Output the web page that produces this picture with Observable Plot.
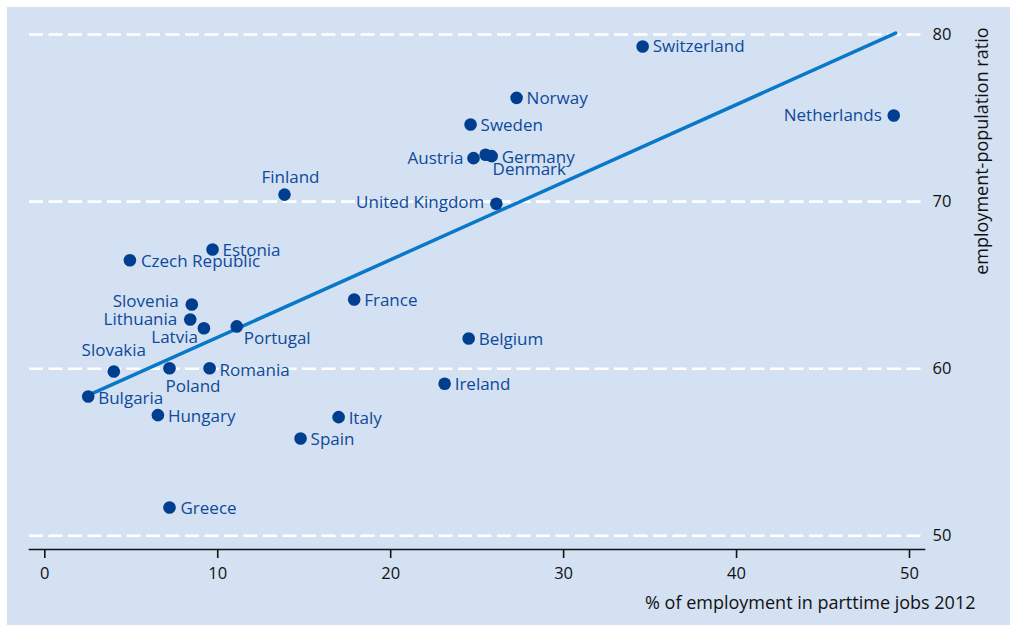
<!DOCTYPE html>
<html>
<head>
<meta charset="utf-8">
<script src="https://cdn.jsdelivr.net/npm/d3@7"></script>
<script src="https://cdn.jsdelivr.net/npm/@observablehq/plot@0.6"></script>
<style>
  html, body { margin: 0; padding: 0; background: #ffffff; }
  #wrap { padding: 7px 0 0 7px; width: 1003px; height: 618px; }
</style>
</head>
<body>
<div id="wrap"></div>
<script>
// ---- data ----
const countries = ["Switzerland","Norway","Sweden","Austria","Germany","Denmark","Netherlands","United Kingdom","Finland","Estonia","Czech Republic","Slovenia","Lithuania","Latvia","Portugal","Slovakia","Poland","Romania","Bulgaria","Hungary","France","Belgium","Ireland","Italy","Spain","Greece"];
const parttimeShare = [34.57,27.28,24.62,24.79,25.84,25.49,49.09,26.11,13.86,9.70,4.92,8.50,8.41,9.20,11.10,3.99,7.21,9.53,2.51,6.54,17.89,24.51,23.12,16.99,14.79,7.21];
const employmentRatio = [79.28,76.21,74.61,72.60,72.72,72.80,75.15,69.87,70.42,67.13,66.49,63.84,62.94,62.42,62.53,59.83,60.03,60.03,58.34,57.22,64.14,61.81,59.10,57.10,55.82,51.69];
const fitX = [2.5, 49.2];
const fitY = [58.4, 80.08];
const xTicks = [0, 10, 20, 30, 40, 50];
const yTicks = [50, 60, 70, 80];
const xTitle = "% of employment in parttime jobs 2012";
const yTitle = "employment-population ratio";

// ---- label placement (style) ----
const placement = {
  "Switzerland": ["start", 10, 0],
  "Norway": ["start", 10, 1],
  "Sweden": ["start", 10, 1],
  "Austria": ["end", -10, 0],
  "Germany": ["start", 10, 1],
  "Denmark": ["start", 7, 15],
  "Netherlands": ["end", -12, 0],
  "United Kingdom": ["end", -12, -1],
  "Finland": ["middle", 6, -17],
  "Estonia": ["start", 10, 1],
  "Czech Republic": ["start", 11, 1],
  "Slovenia": ["end", -13, -3],
  "Lithuania": ["end", -13, 0],
  "Latvia": ["end", -6, 9],
  "Portugal": ["start", 7, 12],
  "Slovakia": ["middle", 0, -21],
  "Poland": ["start", -4, 18],
  "Romania": ["start", 10, 2],
  "Bulgaria": ["start", 10, 2],
  "Hungary": ["start", 10, 1],
  "France": ["start", 10, 1],
  "Belgium": ["start", 10, 1],
  "Ireland": ["start", 10, 1],
  "Italy": ["start", 10, 1],
  "Spain": ["start", 10, 1],
  "Greece": ["start", 11, 1]
};

const data = countries.map((c, i) => ({country: c, x: parttimeShare[i], y: employmentRatio[i]}));
const fit = fitX.map((x, i) => ({x, y: fitY[i]}));

const dotColor = "#003f8f";
const labelColor = "#0d4a9b";
const lineColor = "#0a78c8";
const font = "'Open Sans', 'Noto Sans', sans-serif";

const labelMarks = countries.map(c => {
  const [anchor, dx, dy] = placement[c];
  return Plot.text(data.filter(d => d.country === c), {
    x: "x", y: "y", text: "country",
    textAnchor: anchor, lineAnchor: "middle",
    dx, dy, fill: labelColor, fontSize: 17
  });
});

const chart = Plot.plot({
  width: 1003,
  height: 618,
  marginLeft: 22,
  marginRight: 86,
  marginTop: 10,
  marginBottom: 76,
  style: {background: "#d4e1f2", fontFamily: font, color: "#111"},
  x: {domain: [0, 50], range: [37.3, 902], axis: null},
  y: {domain: [50, 80], range: [528.3, 27], axis: null},
  marks: [
    Plot.gridY(yTicks, {stroke: "#ffffff", strokeOpacity: 1, strokeWidth: 2.6, strokeDasharray: "14,5.5"}),
    Plot.frame({anchor: "bottom", stroke: "#111", strokeWidth: 1.6}),
    Plot.axisX(xTicks, {anchor: "bottom", tickSize: 9, tickPadding: 9, fontSize: 16.5, stroke: "#111", strokeWidth: 1.6, fill: "#111", label: null}),
    Plot.axisY(yTicks, {anchor: "right", tickSize: 0, tickPadding: 8, fontSize: 16.5, fill: "#111", label: null}),
    Plot.text([xTitle], {frameAnchor: "bottom-right", textAnchor: "end", lineAnchor: "middle", dx: 51, dy: 54, fontSize: 18, fill: "#111"}),
    Plot.text([yTitle], {frameAnchor: "top-right", rotate: -90, textAnchor: "end", lineAnchor: "middle", dx: 58, dy: 10, fontSize: 18, fill: "#111"}),
    Plot.line(fit, {x: "x", y: "y", stroke: lineColor, strokeWidth: 3.5}),
    Plot.dot(data, {x: "x", y: "y", r: 6.3, fill: dotColor, stroke: "none"}),
    ...labelMarks
  ]
});
document.getElementById("wrap").appendChild(chart);
</script>
</body>
</html>
